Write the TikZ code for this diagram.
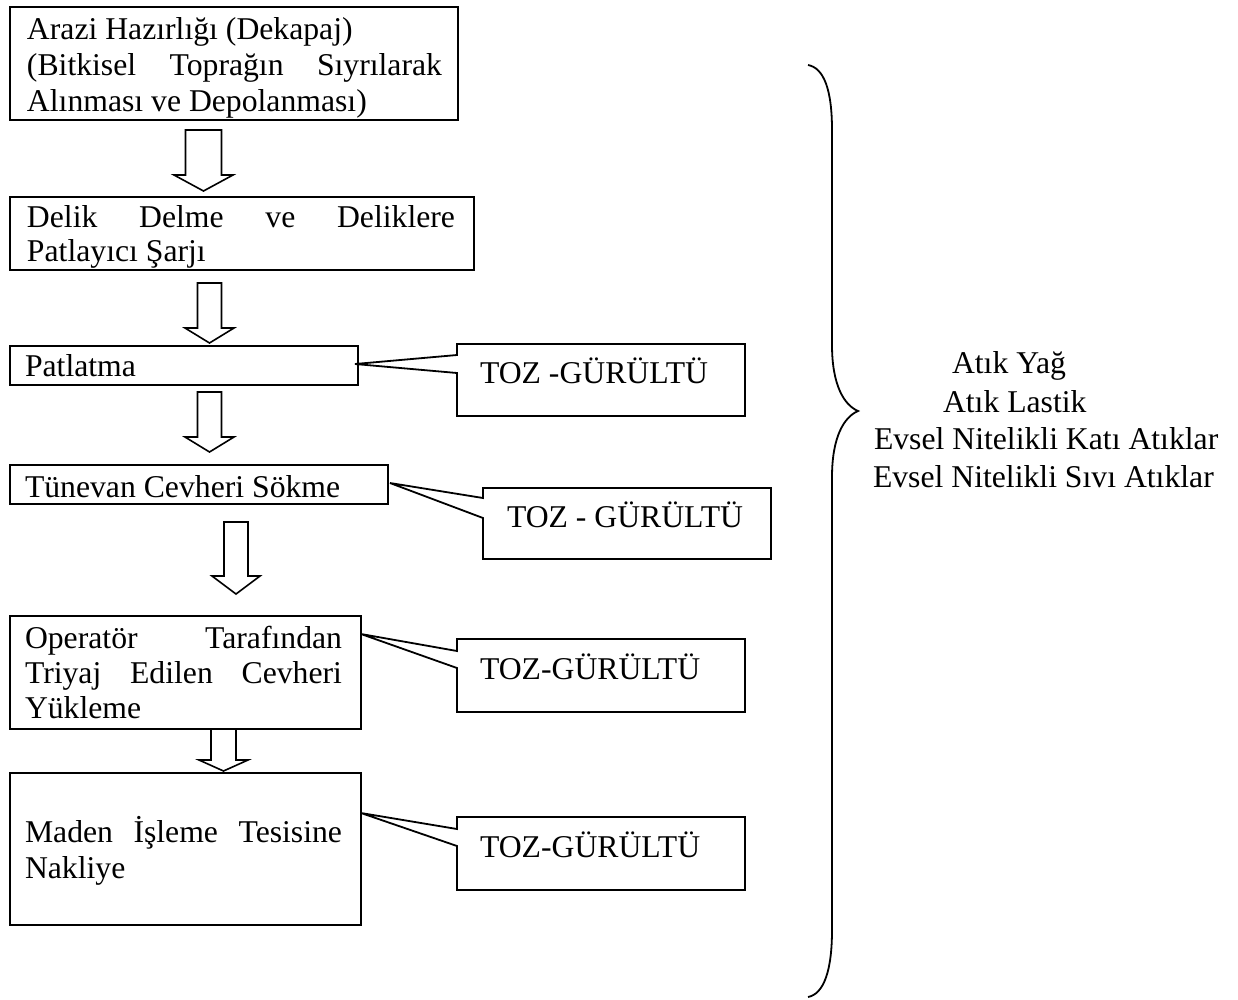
\documentclass[tikz,border=0pt]{standalone}
\usepackage{fontspec}
\setmainfont{Liberation Serif}
\newcommand\blkarrow[7]{% name, cx, top, headbase, tip, shafthalf, headhalf
  \draw[blk] ({#2-#6},#3) -- ({#2+#6},#3) -- ({#2+#6},#4) -- ({#2+#7},#4) -- (#2,#5) coordinate (#1)
    -- ({#2-#7},#4) -- ({#2-#6},#4) -- cycle;}
\begin{document}
\begin{tikzpicture}[x=1pt,y=-1pt,
  box/.style={draw, line width=2.4pt, rectangle, inner sep=0pt, outer sep=0pt, anchor=north west},
  zone/.style={rectangle, inner sep=0pt, outer sep=0pt, anchor=north west},
  callout/.style={draw, line width=1.8pt, line join=miter},
  blk/.style={draw, fill=white, line width=1.6pt, line join=miter},
  txt/.style={inner sep=0pt, outer sep=0pt, anchor=base west, font=\fontsize{31.7pt}{36pt}\selectfont},
  brace/.style={draw, line width=1.8pt}]
\useasboundingbox (0,0) rectangle (1238,999);

% main process boxes
\node[box, minimum width=448pt, minimum height=113pt] (b1) at (10,7) {};
\node[box, minimum width=464pt, minimum height=73pt] (b2) at (10,197) {};
\node[box, minimum width=348pt, minimum height=39pt] (b3) at (10,346) {};
\node[box, minimum width=378pt, minimum height=39pt] (b4) at (10,465) {};
\node[box, minimum width=351pt, minimum height=113pt] (b5) at (10,616) {};
\node[box, minimum width=351pt, minimum height=152pt] (b6) at (10,773) {};

% texts of the process boxes
\node[txt] (t1a) at (27,39) {Arazi Hazırlığı (Dekapaj)};
\node[txt] (t1b) at (27,75) {\makebox[415pt][s]{(Bitkisel Toprağın Sıyrılarak}};
\node[txt] (t1c) at (27,111) {Alınması ve Depolanması)};
\node[txt] (t2a) at (27,227) {\makebox[428pt][s]{Delik Delme ve Deliklere}};
\node[txt] (t2b) at (27,261) {Patlayıcı Şarjı};
\node[txt] (t3) at (25,376) {Patlatma};
\node[txt] (t4) at (25,497) {Tünevan Cevheri Sökme};
\node[txt] (t5a) at (25,648) {\makebox[317pt][s]{Operatör Tarafından}};
\node[txt] (t5b) at (25,683) {\makebox[317pt][s]{Triyaj Edilen Cevheri}};
\node[txt] (t5c) at (25,718) {Yükleme};
\node[txt] (t6a) at (25,842) {\makebox[317pt][s]{Maden İşleme Tesisine}};
\node[txt] (t6b) at (25,878) {Nakliye};

% block arrows between the boxes
\blkarrow{a1}{203.5}{130}{175}{191}{18}{29.5}
\blkarrow{a2}{209.5}{283}{328}{343}{12}{24.5}
\blkarrow{a3}{209.5}{392}{437}{452}{12}{24.5}
\blkarrow{a4}{236}{522}{576}{594}{12}{24}
\blkarrow{a5}{223.5}{729}{760}{771}{12.5}{24.5}

% callout boxes (TOZ - GÜRÜLTÜ)
\node[zone, minimum width=288pt, minimum height=72pt] (z1) at (457,344) {};
\node[zone, minimum width=288pt, minimum height=71pt] (z2) at (483,488) {};
\node[zone, minimum width=288pt, minimum height=73pt] (z3) at (457,639) {};
\node[zone, minimum width=288pt, minimum height=73pt] (z4) at (457,817) {};

\coordinate (p1) at (355,364);
\coordinate (p2) at (390,483);
\coordinate (p3) at (361,634);
\coordinate (p4) at (361,813);

\draw[callout] (z1.west |- 0,355) |- (z1.north east) |- (z1.south west) -- (z1.west |- 0,373) -- (p1) -- cycle;
\draw[callout] (z2.west |- 0,498) |- (z2.north east) |- (z2.south west) -- (z2.west |- 0,518) -- (p2) -- cycle;
\draw[callout] (z3.west |- 0,651) |- (z3.north east) |- (z3.south west) -- (z3.west |- 0,668) -- (p3) -- cycle;
\draw[callout] (z4.west |- 0,829) |- (z4.north east) |- (z4.south west) -- (z4.west |- 0,846) -- (p4) -- cycle;

\node[txt] (zt1) at (480,383) {TOZ -GÜRÜLTÜ};
\node[txt] (zt2) at (507,527) {TOZ - GÜRÜLTÜ};
\node[txt] (zt3) at (480,679) {TOZ-GÜRÜLTÜ};
\node[txt] (zt4) at (480,857) {TOZ-GÜRÜLTÜ};

% right brace
\draw[brace] (808,65) .. controls (824,68) and (832,90) .. (832,130) -- (832,345)
  .. controls (832,385) and (844,405) .. (858,411)
  .. controls (844,417) and (832,437) .. (832,477) -- (832,930)
  .. controls (832,970) and (824,994) .. (808,997);

% waste list
\node[txt] (w1) at (952,373) {Atık Yağ};
\node[txt] (w2) at (943,412) {Atık Lastik};
\node[txt] (w3) at (874,449) {Evsel Nitelikli Katı Atıklar};
\node[txt] (w4) at (873,487) {Evsel Nitelikli Sıvı Atıklar};
\end{tikzpicture}
\end{document}
